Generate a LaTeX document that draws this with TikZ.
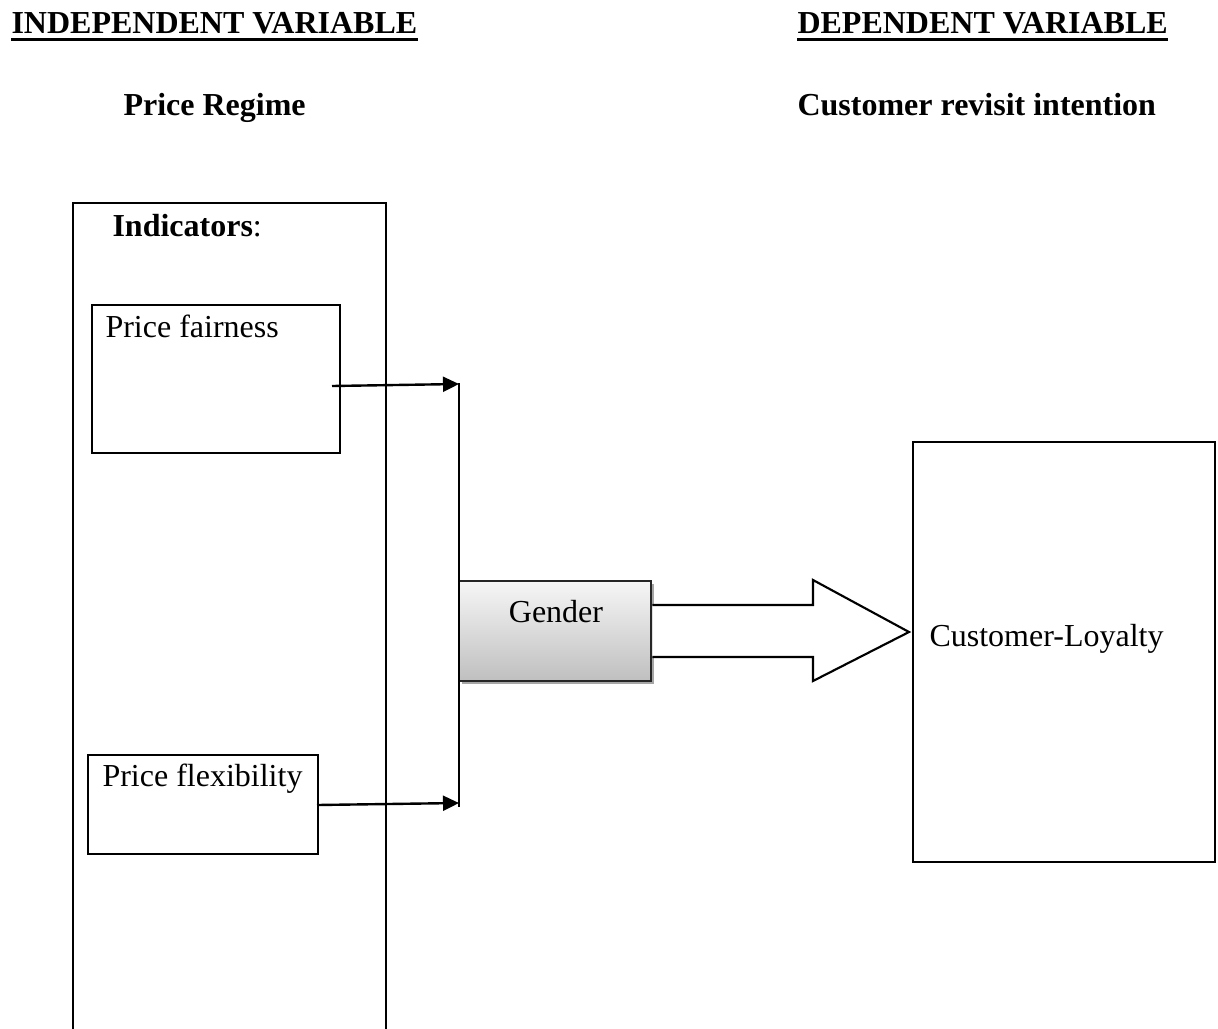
\documentclass[tikz,border=0pt]{standalone}
\usepackage{fontspec}
\setmainfont{Liberation Serif}
\usetikzlibrary{arrows.meta,fit,calc,shadows}
\begin{document}
\begin{tikzpicture}[x=0.375pt,y=-0.375pt,
  txt/.style={inner sep=0pt,anchor=base west,font=\fontsize{12pt}{14pt}\selectfont},
  box/.style={draw=black,line width=1.1pt,inner sep=0pt},
  conn/.style={draw=black,line width=0.9pt},
  arr/.style={conn,-{Triangle[length=6pt,width=5.6pt]}},
  ul/.style={draw=black,line width=1.1pt}]
\useasboundingbox (0,0) rectangle (1218,1028);
% headings
\node[txt] (indep) at (11,33) {\textbf{INDEPENDENT VARIABLE}};
\draw[ul] ($(indep.base west)+(0,6.5)$) -- ($(indep.base east)+(0,6.5)$);
\node[txt] (dep) at (797,33) {\textbf{DEPENDENT VARIABLE}};
\draw[ul] ($(dep.base west)+(0,6.5)$) -- ($(dep.base east)+(0,6.5)$);
\node[txt] (regime) at (123,115) {\textbf{Price Regime}};
\node[txt] (revisit) at (797,115) {\textbf{Customer revisit intention}};
% indicators container (runs off the bottom)
\draw[box] (73,1040) -- (73,203) -- (386,203) -- (386,1040);
\node[txt] (ind) at (112,236) {\textbf{Indicators}:};
% indicator boxes
\node[box,fit={(92,305) (340,453)}] (fair) {};
\node[txt] (fairt) at (105,337) {Price fairness};
\node[box,fit={(88,755) (318,854)}] (flex) {};
\node[txt] (flext) at (102,786) {Price flexibility};
% gender box
\node[box,draw=black!85,fit={(459,581) (651,681)},top color=gray!7,bottom color=gray!50,
  drop shadow={shadow xshift=1.1pt,shadow yshift=-1.1pt,fill=gray!70,opacity=1}] (gender) {};
\node[inner sep=0pt,anchor=base,font=\fontsize{12pt}{14pt}\selectfont] (gendert) at (556,622) {Gender};
% loyalty box
\node[box,fit={(913,442) (1215,862)}] (loyal) {};
\node[txt] (loyalt) at (929,646) {Customer-Loyalty};
% connectors
\coordinate (s1) at (332,386);
\coordinate (e1) at (459,384);
\coordinate (s2) at (317,805);
\coordinate (e2) at (459,803);
\coordinate (bt) at (459,383);
\coordinate (bb) at (459,807);
\draw[conn] (bt) -- (bb);
\draw[arr] (s1) -- (e1);
\draw[arr] (s2) -- (e2);
% block arrow from gender to loyalty
\draw[line width=0.8pt,fill=white,line join=miter]
  ($(gender.east)+(0,-26)$) -- (813,605) -- (813,580) -- (909,632) -- (813,681) -- (813,657) -- ($(gender.east)+(0,26)$);
\end{tikzpicture}
\end{document}
